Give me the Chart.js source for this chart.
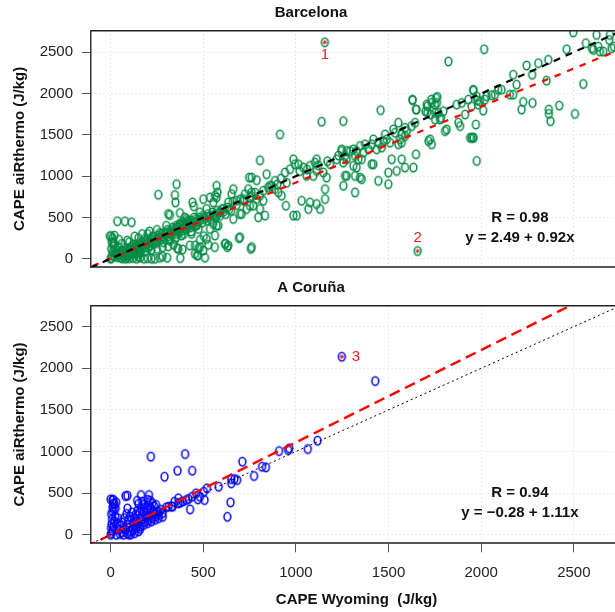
<!DOCTYPE html>
<html>
<head>
<meta charset="utf-8">
<title>CAPE aiRthermo vs Wyoming</title>
<script src="https://cdn.jsdelivr.net/npm/chart.js@4.4.1/dist/chart.umd.min.js"></script>
<style>
  html, body { margin: 0; padding: 0; background: #fff; overflow: hidden; width: 615px; height: 612px; }
  canvas { position: absolute; left: 0; }
  #bcnChart { top: 0; }
  #corChart { top: 275px; }
</style>
</head>
<body>
<canvas id="bcnChart" width="640" height="285"></canvas>
<canvas id="corChart" width="640" height="337"></canvas>
<script>
// tick positions shared by both axes of both panels
const axisTicks = [0, 500, 1000, 1500, 2000, 2500];

// Barcelona soundings: [CAPE Wyoming, CAPE aiRthermo]
const bcnPoints = [
  [0,0],[5,10],[8,40],[12,80],[3,120],[15,150],[6,200],[10,250],[20,280],[2,273],[25,60],[30,100],[35,20],[40,140],
  [18,190],[45,230],[50,50],[60,5],[70,30],[55,90],[80,0],[100,5],[120,10],[140,0],[160,15],[180,0],[200,8],[221,0],
  [239,0],[266,12],[305,12],[280,30],[150,25],[90,20],[20,30],[30,50],[40,70],[50,20],[65,100],[75,130],[85,40],[95,60],
  [105,110],[115,80],[125,170],[135,140],[145,60],[165,200],[185,240],[205,130],[225,270],[245,190],[265,310],[285,200],
  [305,350],[315,230],[335,380],[355,260],[375,420],[395,300],[415,460],[435,330],[450,500],[475,360],
  [60,80],[75,60],[85,110],[95,90],[100,130],[110,70],[115,150],[125,120],[130,100],[140,160],[145,130],[150,90],
  [155,180],[160,150],[170,120],[175,200],[180,170],[190,140],[195,220],[200,190],[210,160],[215,240],[220,200],[230,180],
  [235,260],[240,230],[250,210],[255,280],[260,250],[270,230],[275,300],[280,270],[290,250],[295,320],[300,290],[310,270],
  [320,340],[325,310],[330,290],[340,360],[345,330],[350,300],[360,380],[365,350],[370,320],[380,400],[385,370],[390,340],
  [400,420],[405,390],[410,360],[420,440],[425,410],[430,380],[440,460],[445,430],[455,400],[460,480],[465,450],[470,420],
  [480,500],[485,470],[495,440],[500,520],[510,490],[520,460],[525,540],[530,510],[540,480],[550,560],[555,530],[565,500],
  [575,580],[580,550],[590,520],[600,600],[610,570],[620,540],[630,620],[640,600],[650,580],
  [100,40],[130,60],[160,80],[190,90],[220,110],[250,120],[280,140],[310,150],[340,170],[359,128],[388,112],[467,40],
  [509,12],[455,60],[500,100],[473,121],[455,161],[428,161],[527,169],[482,229],[518,241],[437,301],[347,241],[320,221],
  [383,281],[356,401],[374,422],[392,442],[410,482],[428,462],[464,401],[536,361],[581,401],[757,120],[693,249],[562,141],
  [619,181],[630,141],[503,273],[482,141],[471,40],[376,8],[365,120],
  [36,454],[77,454],[113,442],[311,542],[320,530],[374,554],[442,682],[449,634],[482,562],[518,602],[554,682],[572,742],
  [536,742],[500,722],[347,771],[350,682],[257,775],[356,903],[572,883],[577,803],[-4,273],[14,181],[200,300],[150,250],
  [250,350],[100,200],[300,400],[400,500],[60,180],[90,220],[130,270],[170,300],[210,330],
  [1139,1658],[914,1505],[806,1192],[748,983],[761,983],[788,951],[842,1023],[887,943],[919,971],[941,1044],[968,1084],
  [995,1144],[986,1204],[1013,1144],[1040,1104],[1076,1124],[1103,1164],[1112,1204],[1058,1003],[1094,1003],[1112,1064],
  [1148,1044],[1166,983],[1184,1144],[1220,1204],[1247,1304],[1265,1244],[1274,1003],[1256,883],[1157,843],[1157,723],
  [1112,662],[1076,682],[1067,602],[1031,702],[1130,602],[986,522],[1004,522],[946,642],[905,803],[923,763],[887,843],
  [860,883],[824,823],[806,763],[788,723],[770,642],[824,702],[806,602],[833,522],[797,502],[725,783],[743,843],[761,803],
  [716,723],[752,743],[734,602],[707,542],[752,642],[662,843],[653,783],[680,702],[635,682],[608,602],[590,562],[572,522],
  [563,763],[662,482],[698,542],[554,422],[572,401],[698,261],[617,181],[635,161],[761,141],[563,281],
  [1020,1060],[1060,1080],[1120,1130],[1170,1180],[1230,1250],[900,900],[950,920],[870,880],[850,860],[700,720],[720,700],
  [680,650],[660,690],[760,760],[780,800],
  [1823,2388],[1457,1798],[1256,1666],[1630,1918],[1648,1806],[1706,1866],[1733,1886],[1763,1959],[1751,1866],[1709,1774],
  [1727,1746],[1769,1766],[1778,1686],[1751,1686],[1796,1786],[1868,1866],[1895,1886],[1931,1926],[1958,2035],[1979,1918],
  [1913,1746],[1877,1646],[1886,1606],[1940,1465],[1958,1465],[1976,1184],[1814,1565],[1805,1545],[1724,1445],[1733,1385],
  [1715,1425],[1643,1646],[1625,1606],[1589,1585],[1598,1545],[1571,1505],[1553,1646],[1526,1565],[1535,1525],[1562,1445],
  [1589,1485],[1553,1385],[1571,1405],[1481,1505],[1490,1445],[1472,1425],[1508,1405],[1418,1445],[1445,1405],[1409,1385],
  [1463,1345],[1436,1324],[1346,1365],[1373,1385],[1391,1324],[1364,1284],[1328,1304],[1310,1324],[1292,1304],[1274,1304],
  [1247,1324],[1319,1244],[1337,1204],[1310,1124],[1328,1104],[1355,1204],[1355,963],[1346,983],[1274,1204],[1256,1164],
  [1409,1144],[1418,1144],[1445,943],[1499,903],[1499,1043],[1544,1063],[1571,1204],[1589,1104],[1634,1104],[1648,1264],
  [1265,1003],[1319,1003],[1319,803],[1517,1204],
  [1629,1926],[1650,1806],[1731,1926],[1756,1946],[1761,1886],[1710,1846],[1699,1785],[1752,1766],[1783,1706],
  [2497,2740],[2623,2709],[2691,2648],[2632,2568],[2659,2508],[2605,2528],[2704,2548],[2695,2709],[2461,2536],[2016,2536],
  [2173,2227],[2245,2339],[2275,2227],[2308,2367],[2362,2408],[2353,2155],[2551,2115],[2191,2107],[2173,1986],[2155,1986],
  [2110,2046],[2092,2046],[2074,1986],[2056,1978],[2029,1966],[2020,1926],[1993,1906],[1975,1966],[1957,2046],[1984,1866],
  [1948,1846],[2011,1794],[2227,1898],[2218,1806],[2277,1886],[2365,1806],[2365,1754],[2374,1665],[2421,1854],[2506,1754],
  [1971,1625],[1948,1465],[1957,1465],[2565,2609],[2598,2549],[2641,2508],[2716,2568]
];
const bcnMarked = [[1156, 2620], [1657, 93]];
const bcnMarkNames = ['1', '2'];
const bcnFit = [2.49, 0.92];   // intercept, slope
const bcnR = 0.98;

// A Coruña soundings
const corPoints = [
  [0,0],[5,20],[10,50],[2,80],[15,100],[5,130],[20,160],[8,190],[25,220],[3,250],[12,280],[18,310],[10,330],[20,370],
  [15,420],[30,390],[40,200],[35,140],[45,60],[50,110],[60,30],[70,80],[80,60],[90,120],[100,90],[110,40],[120,140],
  [130,100],[140,160],[150,130],[160,70],[170,190],[180,150],[190,210],[200,170],[210,230],[220,200],[230,260],[240,220],
  [250,280],[260,240],[270,300],[280,260],[60,150],[75,200],[85,250],[95,180],[105,220],[115,270],[125,200],[135,240],
  [145,290],[155,260],[165,310],[175,280],[185,330],[195,300],[205,350],[215,320],[225,380],[235,340],[245,360],
  [91,317],[143,409],[164,477],[213,409],[207,477],[80,465],[10,417],[16,377],[27,317],[0,425],[217,938],[291,697],
  [361,769],[440,769],[402,970],[180,360],[200,420],[170,400],[150,370],[90,470],
  [30,0],[50,10],[70,0],[90,15],[110,5],[130,20],[150,40],[100,0],[120,60],[140,80],[160,100],[180,120],[200,140],
  [220,160],[240,180],[260,200],
  [281,216],[239,257],[196,216],[142,177],[260,277],[300,330],[313,337],[334,337],[344,397],[365,377],[376,385],[365,437],
  [408,417],[429,305],[440,457],[461,498],[471,425],[482,457],[503,517],[507,417],[520,558],[583,577],[630,216],[647,389],
  [651,669],[651,618],[668,669],[683,657],[711,877],[774,706],[817,817],[838,810],[909,1006],[958,1018],[964,1038],
  [1064,1030],[1117,1130],[1428,1847],[330,340],[390,400],[420,430]
];
const corMarked = [[1248, 2139]];
const corMarkNames = ['3'];
const corFit = [-0.28, 1.11];
const corR = 0.94;

Chart.defaults.font.family = '"Liberation Sans", Arial, Helvetica, sans-serif';
Chart.defaults.font.size = 15;

// open "o" marker, a bit taller than wide
function ringImage(color) {
  const c = document.createElement('canvas');
  c.width = 11; c.height = 13;
  const g = c.getContext('2d');
  g.strokeStyle = color;
  g.lineWidth = 1.5;
  g.beginPath();
  g.ellipse(5.5, 6.5, 3.4, 4.2, 0, 0, Math.PI * 2);
  g.stroke();
  return c;
}

function fmtNum(v) {
  return (v < 0 ? '\u2212' : '') + Math.abs(v).toFixed(2);
}

// box top edge, point numbers and the fit summary
const panelExtras = {
  id: 'panelExtras',
  afterDatasetsDraw(chart, args, opts) {
    const {ctx, chartArea: a, scales: {x, y}} = chart;
    ctx.save();
    ctx.strokeStyle = '#222';
    ctx.lineWidth = 1.5;
    ctx.beginPath();
    ctx.moveTo(a.left, a.top);
    ctx.lineTo(a.right, a.top);
    ctx.lineTo(a.right, a.bottom);
    ctx.stroke();

    ctx.textAlign = 'center';
    ctx.textBaseline = 'middle';
    ctx.fillStyle = '#f02020';
    ctx.font = '15px "Liberation Sans", Arial, sans-serif';
    opts.marks.forEach((p, i) => {
      const off = opts.markOffsets[i];
      ctx.fillText(opts.markNames[i], x.getPixelForValue(p[0]) + off[0], y.getPixelForValue(p[1]) + off[1]);
    });

    ctx.fillStyle = '#111';
    ctx.font = 'bold 15px "Liberation Sans", Arial, sans-serif';
    const sx = x.getPixelForValue(opts.statsAt[0]);
    ctx.fillText('R = ' + opts.r.toFixed(2), sx, y.getPixelForValue(opts.statsAt[1]));
    ctx.fillText('y = ' + fmtNum(opts.fit[0]) + ' + ' + fmtNum(opts.fit[1]) + 'x', sx, y.getPixelForValue(opts.statsAt[2]));
    ctx.restore();
  }
};

function lineThrough(a, b) {
  return [-300, 3000].map(v => ({x: v, y: a + b * v}));
}

function makePanel(id, cfg) {
  const showX = cfg.showX;
  new Chart(document.getElementById(id), {
    type: 'scatter',
    data: {
      datasets: [
        {
          data: lineThrough(cfg.fit[0], cfg.fit[1]),
          showLine: true, pointRadius: 0, borderColor: '#ff0000',
          borderWidth: cfg.fitWidth, borderDash: cfg.fitDash, clip: 0, order: 1
        },
        {
          data: lineThrough(0, 1),
          showLine: true, pointRadius: 0, borderColor: '#000',
          borderWidth: cfg.oneWidth, borderDash: cfg.oneDash, clip: 0, order: 0
        },
        {
          data: cfg.points.concat(cfg.marks).map(p => ({x: p[0], y: p[1]})),
          pointStyle: ringImage(cfg.color), pointRadius: 4, order: 3
        },
        {
          data: cfg.marks.map(p => ({x: p[0], y: p[1]})),
          pointStyle: 'star', pointRadius: 2.2, borderWidth: 1,
          borderColor: '#ff2020', backgroundColor: '#ff2020', order: 2
        }
      ]
    },
    options: {
      responsive: false,
      animation: false,
      devicePixelRatio: 1,
      layout: {padding: {left: 0, right: 18, top: 0, bottom: 0}},
      plugins: {
        legend: {display: false},
        tooltip: {enabled: false},
        title: {
          display: true, text: cfg.title, color: '#111',
          font: {size: 15, weight: 'bold', lineHeight: 1.2},
          padding: {top: 4, bottom: 8.7}
        },
        panelExtras: {
          marks: cfg.marks, markNames: cfg.markNames, markOffsets: cfg.markOffsets,
          r: cfg.r, fit: cfg.fit, statsAt: cfg.statsAt
        }
      },
      scales: {
        x: {
          type: 'linear', min: -106, max: 2760,
          afterBuildTicks: s => { s.ticks = axisTicks.map(v => ({value: v})); },
          afterFit: s => { s.height = showX ? 68.7 : 16.7; },
          grid: {color: '#d4d4d4', lineWidth: 1, drawTicks: showX, tickLength: 9, tickColor: '#555', tickWidth: 1},
          border: {color: '#555', width: 2, dash: [1, 3]},
          ticks: {display: showX, padding: 12, color: '#222', callback: v => String(v)},
          title: {
            display: showX, text: 'CAPE Wyoming  (J/kg)', color: '#111',
            font: {size: 15, weight: 'bold'}, padding: {top: 0, bottom: 3}
          }
        },
        y: {
          type: 'linear', min: cfg.yMin, max: cfg.yMax,
          afterBuildTicks: s => { s.ticks = axisTicks.map(v => ({value: v})); },
          afterFit: s => { s.width = 91; },
          grid: {color: '#d4d4d4', lineWidth: 1, tickLength: 9, tickColor: '#555', tickWidth: 1},
          border: {color: '#333', width: 1.5, dash: [1, 3]},
          ticks: {padding: 9, color: '#222', callback: v => String(v)},
          title: {
            display: true, text: 'CAPE aiRthermo (J/kg)', color: '#111',
            font: {size: 15, weight: 'bold'}, padding: {top: 11, bottom: 0}
          }
        }
      }
    },
    plugins: [panelExtras]
  });
}

makePanel('bcnChart', {
  title: 'Barcelona', showX: false, color: '#008b45',
  points: bcnPoints, marks: bcnMarked, markNames: bcnMarkNames, markOffsets: [[0, 13], [0, -13]],
  fit: bcnFit, r: bcnR, statsAt: [2209, 490, 249],
  fitWidth: 2.2, fitDash: [6.5, 7], oneWidth: 2.2, oneDash: [7, 6],
  yMin: -100, yMax: 2760
});

makePanel('corChart', {
  title: 'A Coruña', showX: true, color: '#0000ff',
  points: corPoints, marks: corMarked, markNames: corMarkNames, markOffsets: [[14, 0]],
  fit: corFit, r: corR, statsAt: [2209, 498, 264],
  fitWidth: 2.4, fitDash: [11, 6], oneWidth: 1, oneDash: [2, 3],
  yMin: -103, yMax: 2752
});
</script>
</body>
</html>
